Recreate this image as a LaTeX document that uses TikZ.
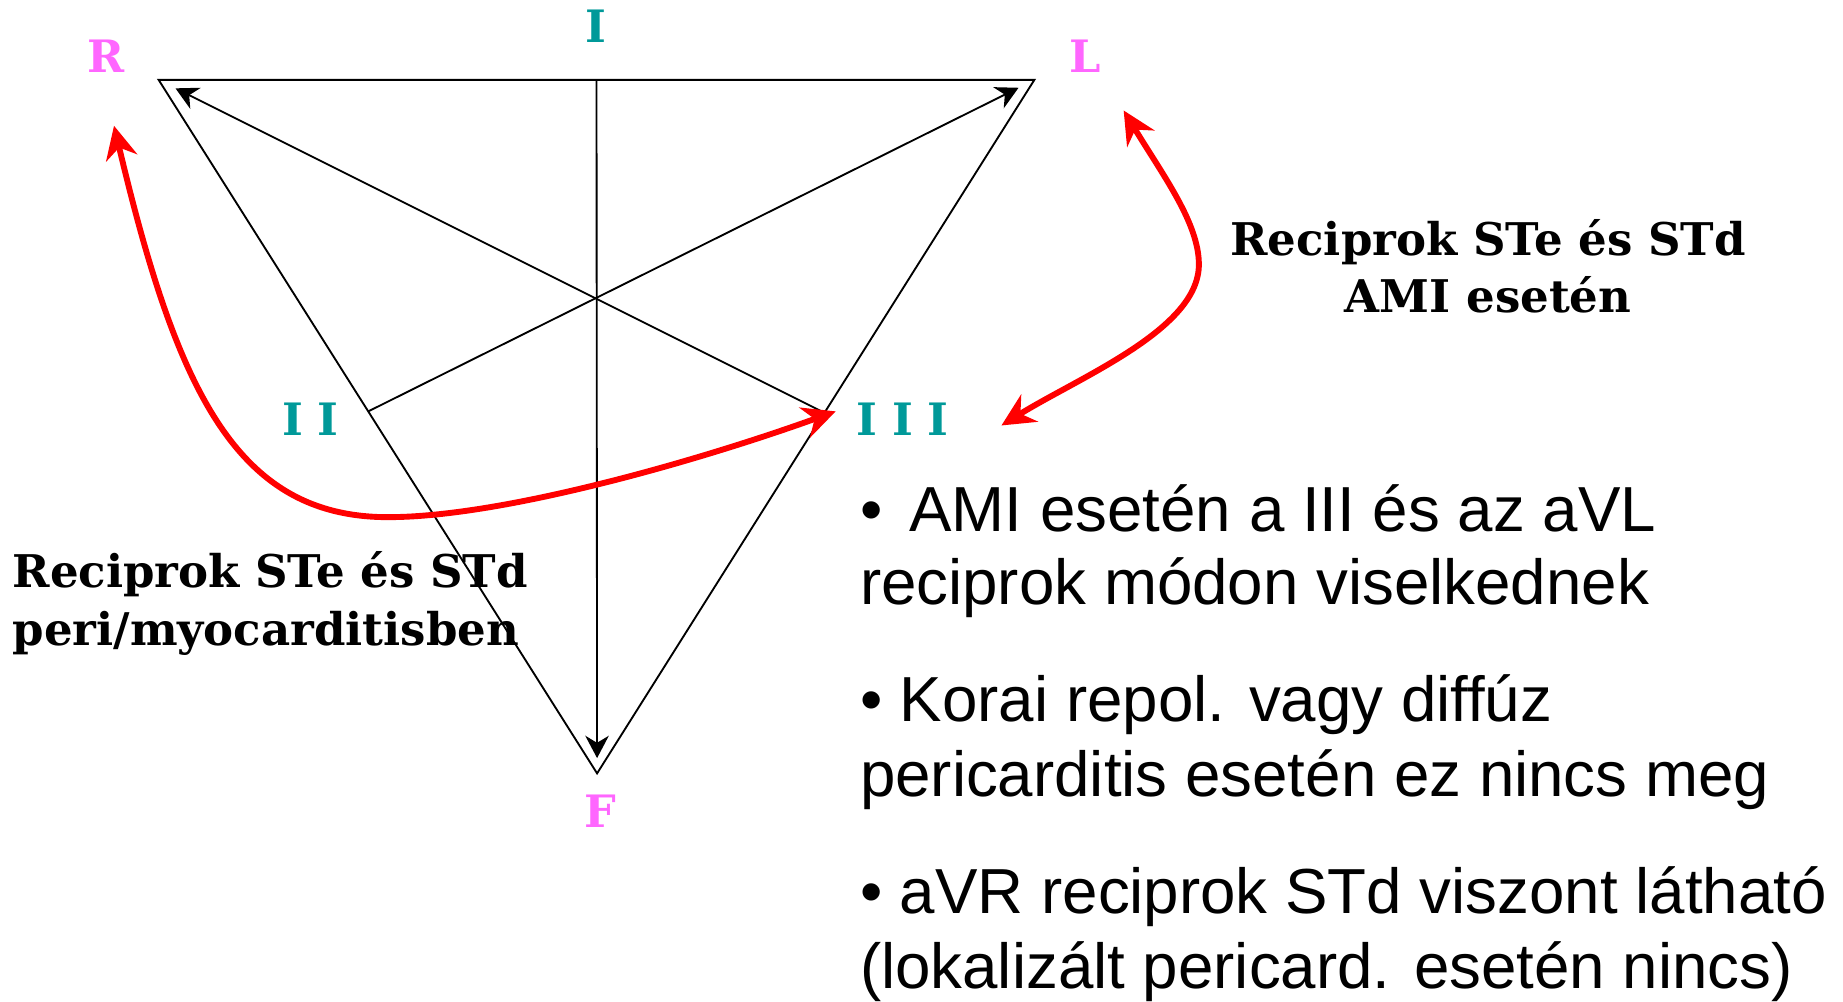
\documentclass[tikz,border=0pt]{standalone}
\usepackage{fontspec}
\setmainfont{Liberation Sans}
\newfontfamily\slab{DejaVu Serif}
\usetikzlibrary{arrows.meta,calc}
\definecolor{lmag}{HTML}{FF66FF}
\definecolor{lteal}{HTML}{009999}
\newcommand{\iigap}{\kern0.125cm}
\begin{document}
\begin{tikzpicture}[x=0.01cm,y=-0.01cm,
  tri/.style={line width=0.45pt,black},
  ax/.style={line width=0.45pt,black,-{Stealth[length=0.19cm,width=0.2cm,inset=0.06cm]}},
  redarr/.style={line width=0.05cm,red,{Stealth[length=0.28cm,width=0.27cm,inset=0.09cm]}-{Stealth[length=0.28cm,width=0.27cm,inset=0.09cm]}},
  lead/.style={inner sep=0pt,font=\slab\bfseries\fontsize{10.8pt}{12pt}\selectfont},
  slabtxt/.style={inner sep=0pt,font=\slab\bfseries\fontsize{10.9pt}{13.9pt}\selectfont},
  bul/.style={inner sep=0pt,anchor=base west,font=\fontsize{15.4pt}{18pt}\selectfont}]
\useasboundingbox (0,0) rectangle (1568,852);
% triangle vertices
\coordinate (R) at (135,68);
\coordinate (L) at (880,68);
\coordinate (F) at (508,658);
\coordinate (Itop) at ($(R)!0.5!(L)$);
\coordinate (IIp) at ($(R)!0.478!(F)$);
\coordinate (IIIp) at ($(L)!0.48!(F)$);
\draw[tri] (R) -- (L) -- (F) -- cycle;
\draw[ax,shorten >=0.13cm] (Itop) -- (F);
\draw[ax,shorten >=0.15cm] (IIp) -- (L);
\draw[ax,shorten >=0.16cm] (IIIp) -- (R);
% labels
\node[lead,text=lmag] (lR) at (90,48) {R};
\node[lead,text=lmag] (lL) at (923,48) {L};
\node[lead,text=lmag] (lF) at (511,690) {F};
\node[lead,text=lteal] (lI) at (507,22) {I};
\node[lead,text=lteal] (lII) at (264,357) {I\iigap I};
\node[lead,text=lteal] (lIII) at (768,357) {I\iigap I\iigap I};
% red arrows
\coordinate (rA) at (97,107);
\coordinate (rB) at (711,350);
\coordinate (rC) at (956,94);
\coordinate (rD) at (852,362);
\draw[redarr] (rA) .. controls (150,330) and (200,440) .. (330,440)
  .. controls (430,440) and (600,390) .. (rB);
\draw[redarr] (rC) .. controls (990,150) and (1020,190) .. (1020,225)
  .. controls (1020,280) and (920,320) .. (rD);
% slab texts
\node[slabtxt,anchor=base] (t1a) at (1266,217) {Reciprok STe és STd};
\node[slabtxt,anchor=base] (t1b) at (1266,266) {AMI esetén};
\node[slabtxt,anchor=base west] (t2a) at (10,500) {Reciprok STe és STd};
\node[slabtxt,anchor=base west] (t2b) at (10,549) {peri/myocarditisben};
% bullets
\node[bul] (b1a) at (731,452) {• \hspace{0.08cm}AMI esetén a III és az aVL};
\node[bul] (b1b) at (731,514) {reciprok módon viselkednek};
\node[bul] (b2a) at (731,614) {• Korai repol. vagy diffúz};
\node[bul] (b2b) at (731,678) {pericarditis esetén ez nincs meg};
\node[bul] (b3a) at (731,777) {• aVR reciprok STd viszont látható};
\node[bul] (b3b) at (731,841) {(lokalizált pericard. esetén nincs)};
\end{tikzpicture}
\end{document}
